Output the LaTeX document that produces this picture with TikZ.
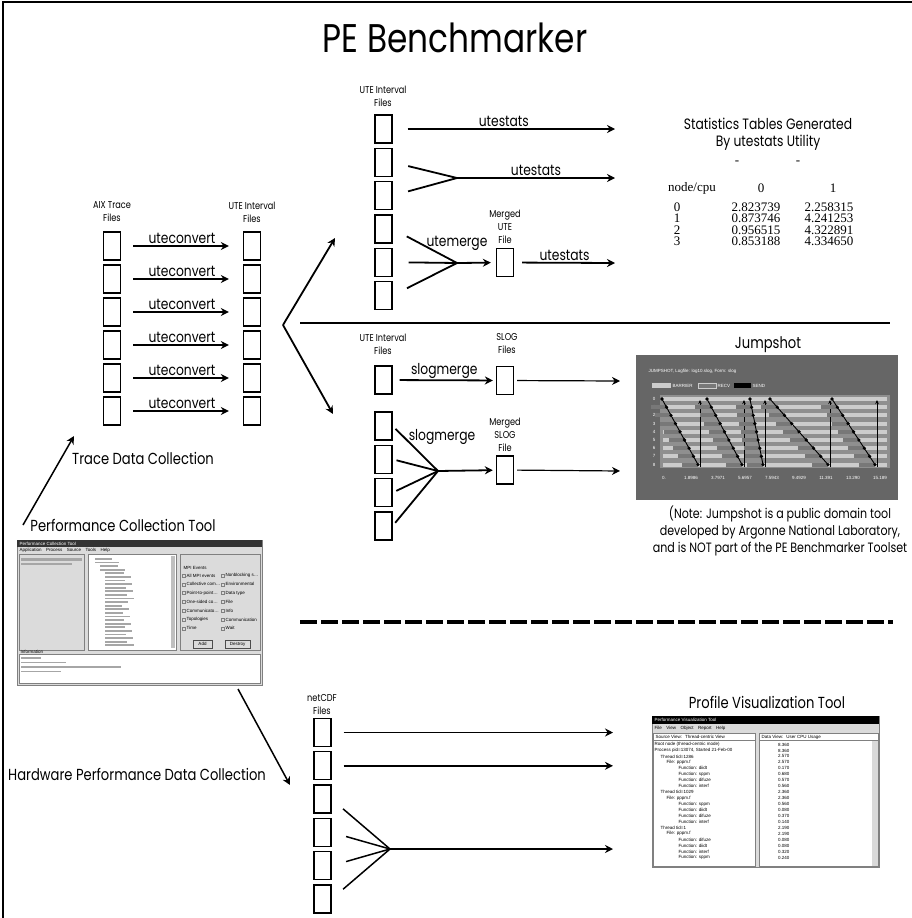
\documentclass[tikz,border=0pt]{standalone}
\usepackage{fontspec}
\setmainfont{Poppins}[FakeStretch=0.82]
\newfontfamily\tabfont{Liberation Serif}
\newfontfamily\guifont{Liberation Sans}
\usetikzlibrary{arrows.meta,positioning}
\definecolor{jsbg}{gray}{0.40}
\definecolor{jsplot}{gray}{0.56}
\definecolor{jslight}{gray}{0.80}
\definecolor{jsmid}{gray}{0.47}
\definecolor{winbg}{gray}{0.86}
\begin{document}
\begin{tikzpicture}[
  x=1pt, y=-1pt,
  file/.style={draw, line width=1.3pt, minimum width=17pt, minimum height=28pt, inner sep=0pt},
  small/.style={font=\fontsize{10}{13}\selectfont, align=center, inner sep=0pt},
  tool/.style={font=\fontsize{15}{17}\selectfont},
  capt/.style={font=\fontsize{16}{17}\selectfont, align=center},
  tab/.style={font=\tabfont\fontsize{13}{13}\selectfont, inner sep=0pt},
  gui/.style={font=\guifont\fontsize{4.5}{5}\selectfont, inner sep=0.5pt},
  fat/.style={line width=1.8pt, -{Stealth[length=8pt,width=8pt]}},
  thinarr/.style={line width=1.2pt, -{Stealth[length=8pt,width=8pt]}},
  midarr/.style={line width=1.5pt, -{Stealth[length=8pt,width=8pt]}},
  leg/.style={line width=1.8pt},
  txtbar/.style={fill=gray!70},
]
\useasboundingbox (0,0) rectangle (912,918);
\draw[line width=1.5pt] (3,918) -- (3,2) -- (912,2);

\node[font=\fontsize{40}{44}\selectfont] (title) at (455,38) {PE Benchmarker};

% trace files -> interval files
\node[small] (aixlbl) at (112,212) {AIX Trace\\Files};
\node[small] (utelbl) at (252,212) {UTE Interval\\Files};
\foreach \i in {1,...,6}{
  \node[file] (aix\i) at (112,{246+33*(\i-1)}) {};
  \node[file] (ute\i) at (252,{246+33*(\i-1)}) {};
  \draw[fat, shorten <=12pt, shorten >=14pt] (aix\i) -- node[above, tool, inner sep=1pt] {uteconvert} (ute\i);
}
\coordinate (fork) at (283,325);
\coordinate (toStats) at (335,238);
\coordinate (toSlog) at (333,414);
\draw[fat] (fork) -- (toStats);
\draw[fat] (fork) -- (toSlog);
\draw[leg] (300,323) coordinate (sepL) -- (890,323) coordinate (sepR);

% utestats / utemerge
\node[small] (ivlbl) at (383,96) {UTE Interval\\Files};
\foreach \i in {1,...,6}
  \node[file] (iv\i) at (383.5,{129+33.3*(\i-1)}) {};
\coordinate (st1) at (615,129);
\coordinate (st2) at (615,178);
\coordinate (st3) at (615,263);
\coordinate (jA) at (457,178);
\coordinate (jB) at (457,263);
\draw[fat, shorten <=15pt] (iv1.east) -- node[above, tool, inner sep=1pt] {utestats} (st1);
\draw[leg, shorten <=16pt] (iv2.east) -- (jA);
\draw[leg, shorten <=16pt] (iv3.east) -- (jA);
\draw[fat] (jA) -- node[above, tool, inner sep=1pt] {utestats} (st2);
\foreach \i in {4,5,6}
  \draw[leg, shorten <=16pt] (iv\i.east) -- (jB);
\node[file] (mute) at (505,262.5) {};
\node[small, above=4pt of mute] (mutelbl) {Merged\\UTE\\File};
\node[tool] (umlbl) at (457,243) {utemerge};
\draw[fat, shorten >=5pt] (jB) -- (mute);
\draw[fat, shorten <=8pt] (mute) -- node[above, tool, inner sep=1pt] {utestats} (st3);

% statistics table
\node[tool, align=center] (sttitle) at (768,134) {Statistics Tables Generated\\By utestats Utility};
\node[tab] (dash0) at (737,163) {-};
\node[tab] (dash1) at (798,163) {-};
\node[tab] (hdr) at (692,188) {node/cpu};
\node[tab] (hdr0) at (761,188) {0};
\node[tab] (hdr1) at (833,188) {1};
\foreach \r/\a/\b [count=\k] in {0/2.823739/2.258315,1/0.873746/4.241253,2/0.956515/4.322891,3/0.853188/4.334650}{
  \node[tab] (row\r) at (677,{207+11.5*(\k-1)}) {\r};
  \node[tab] (cpuA\r) at (756,{207+11.5*(\k-1)}) {\a};
  \node[tab] (cpuB\r) at (829,{207+11.5*(\k-1)}) {\b};
}

% slogmerge
\node[small] (sivlbl) at (383,344) {UTE Interval\\Files};
\node[small] (sloglbl) at (507,344) {SLOG\\Files};
\node[file] (sv1) at (383.5,380) {};
\foreach \i in {2,...,5}
  \node[file] (sv\i) at (383.5,{426+33.3*(\i-2)}) {};
\node[file] (slog) at (505,380.5) {};
\draw[fat, shorten <=7pt, shorten >=3pt] (sv1) -- node[above, tool, inner sep=1pt] {slogmerge} (slog);
\coordinate (jC) at (438,471);
\foreach \i in {2,...,5}
  \draw[leg, shorten <=4pt] (sv\i.east) -- (jC);
\node[file] (mslog) at (505,470) {};
\node[small, above=4pt of mslog] (msloglbl) {Merged\\SLOG\\File};
\node[tool] (smlbl) at (442,437) {slogmerge};
\draw[fat, shorten >=3pt] (jC) -- (mslog);
\coordinate (js1) at (620,381);
\coordinate (js2) at (620,471);
\draw[thinarr, shorten <=3pt] (slog) -- (js1);
\draw[thinarr, shorten <=3pt] (mslog) -- (js2);

% jumpshot
\node[capt] (jslbl) at (768,345) {Jumpshot};
\fill[jsbg] (636,355) rectangle (898,500);
\node[gui, text=white, anchor=west] (jshead) at (648,371) {JUMPSHOT, Logfile: log10.slog, Form: slog};
\fill[jslight] (652,383) rectangle (671,388);
\node[gui, text=white, anchor=west] (jsbar) at (672,385.5) {BARRIER};
\filldraw[fill=jsmid, draw=jslight] (698,383) rectangle (716,388);
\node[gui, text=white, anchor=west] (jsrecv) at (717,385.5) {RECV};
\fill[black] (734,383) rectangle (751,388);
\node[gui, text=white, anchor=west] (jssend) at (752,385.5) {SEND};
\fill[jsplot] (660,395) rectangle (890,468);
\foreach \k in {0,...,8}{
  \node[gui, text=white] (jsy\k) at (654,{399+8.2*\k}) {\k};
  \fill[jslight] (663,{397+8.2*\k}) rectangle (887,{401+8.2*\k});
}
\foreach \xs/\xe in {662/698,707/742,750/763,770/828,832/875}{
  \foreach \k in {1,...,8}
    \fill[jsmid] ({\xs+(\xe-\xs)*\k/8-16},{397+8.2*\k}) rectangle ({\xs+(\xe-\xs)*\k/8},{401+8.2*\k});
  \draw[line width=0.9pt] (\xs,399) -- (\xe,464.6);
  \foreach \k in {0,...,8}
    \fill ({\xs+(\xe-\xs)*\k/8},{399+8.2*\k}) circle (1.8pt);
  \draw[line width=0.6pt, -{Stealth[length=4pt,width=3.5pt]}] ({\xe+2},467) -- ({\xe+2},400);
}
\foreach \t [count=\k from 0] in {0.,1.8986,3.7971,5.6957,7.5943,9.4929,11.391,13.290,15.189}
  \node[gui, text=white] (jsx\k) at ({664+27*\k},478) {\t};
\node[align=center, font=\fontsize{13.5}{17}\selectfont] (note) at (780,531) {(Note: Jumpshot is a public domain tool\\developed by Argonne National Laboratory,\\and is NOT part of the PE Benchmarker Toolset};

\draw[line width=4pt, dash pattern=on 17pt off 4pt] (300,622) coordinate (dashL) -- (893,622) coordinate (dashR);

% collection tool
\node[capt] (tdc) at (143,458) {Trace Data Collection};
\node[capt] (pct) at (123,525) {Performance Collection Tool};
\coordinate (pctTail) at (23,525);
\coordinate (tdcHead) at (74,436);
\draw[midarr] (pctTail) -- (tdcHead);
\filldraw[fill=winbg, draw=gray] (17,540) rectangle (262,685);
\fill[black!80] (17,540) rectangle (262,547);
\node[gui, text=white, anchor=west] (pcttitle) at (19,543.5) {Performance Collection Tool};
\node[gui, anchor=west] (pctmenu) at (19,550.5) {Application\quad Process\quad Source\quad Tools\quad Help};
\filldraw[fill=winbg, draw=gray] (19,554) rectangle (84,650);
\filldraw[fill=white, draw=gray] (88,554) rectangle (176,650);
\filldraw[fill=winbg, draw=gray] (180,554) rectangle (260,650);
\filldraw[fill=white, draw=gray] (19,654) rectangle (260,683);
\fill[txtbar] (21,558) rectangle (82,561);
\fill[txtbar] (21,563) rectangle (72,565);
\foreach \k in {0,...,24}
  \fill[txtbar] ({95+(\k>1)*5+(\k>3)*5},{558+3.6*\k}) rectangle ({112+(\k>1)*5+(\k>3)*5+mod(\k*7,13)},{559.8+3.6*\k});
\fill[gray!50] (171,556) rectangle (175,648);
\node[gui, anchor=west] (mpiev) at (183,568) {MPI Events};
\foreach \a/\b [count=\k from 0] in {All MPI events/Nonblocking s\ldots,Collective com\ldots/Environmental,Point-to-point\ldots/Data type,One-sided co\ldots/File,Communicato\ldots/Info,Topologies/Communication,Time/Wait}{
  \draw[gray] (182,{574+8.8*\k}) rectangle (185,{577+8.8*\k});
  \node[gui, anchor=west] (evA\k) at (186,{575.5+8.8*\k}) {\a};
  \draw[gray] (221,{574+8.8*\k}) rectangle (224,{577+8.8*\k});
  \node[gui, anchor=west] (evB\k) at (225,{575.5+8.8*\k}) {\b};
}
\filldraw[fill=winbg, draw=gray!60!black] (193,640) rectangle (212,648);
\node[gui] (pctadd) at (202.5,644) {Add};
\filldraw[fill=winbg, draw=gray!60!black] (225,640) rectangle (250,648);
\node[gui] (pctdel) at (237.5,644) {Destroy};
\node[gui, anchor=west] (pctinfo) at (20,652) {Information};
\foreach \k/\w in {0/20,1/45,2/100,3/40}
  \fill[txtbar] (21,{657+4.5*\k}) rectangle ({21+\w},{658.6+4.5*\k});
\coordinate (pctOut) at (238,689);
\coordinate (hwHead) at (290,785);
\draw[midarr] (pctOut) -- (hwHead);
\node[capt] (hw) at (137,774) {Hardware Performance Data Collection};

% netCDF files
\node[small] (nclbl) at (322,705) {netCDF\\Files};
\foreach \i in {1,...,6}
  \node[file] (nc\i) at (322.5,{732.5+33.3*(\i-1)}) {};
\coordinate (pvx) at (613,0);
\draw[midarr, shorten <=12pt] (nc1.east) -- (nc1.east -| pvx);
\draw[midarr, shorten <=12pt] (nc2.east) -- (nc2.east -| pvx);
\coordinate (jD) at (390,849);
\foreach \i in {3,...,6}
  \draw[line width=1.5pt, shorten <=15pt] (nc\i.east) -- (jD);
\draw[midarr] (jD) -- (jD -| pvx);

% profile visualization tool
\node[capt] (pvt) at (767,702) {Profile Visualization Tool};
\filldraw[fill=winbg, draw=gray] (652,716) rectangle (879,867);
\fill[black] (652,716) rectangle (879,723.5);
\node[gui, text=white, anchor=west] (pvttitle) at (654,719.7) {Performance Visualization Tool};
\node[gui, anchor=west] (pvtmenu) at (654,728) {File\quad View\quad Object\quad Report\quad Help};
\filldraw[fill=white, draw=gray] (653,733) rectangle (755,866);
\filldraw[fill=white, draw=gray] (759,733) rectangle (878,866);
\node[gui, anchor=west] (srcview) at (655,737) {Source View: \ Thread-centric View};
\node[gui, anchor=west] (dataview) at (761,737) {Data View: \ User CPU Usage};
\draw[gray] (653,740.5) -- (755,740.5);
\draw[gray] (759,740.5) -- (878,740.5);
\fill[gray!30] (872,741) rectangle (878,866);
\foreach \t/\d [count=\k from 0] in {Root node (thread-centric mode)/0,{Process pid=13074, Started 21-Feb-00}/0,Thread tid=1286/1,File: pppm.f/2,Function: diidt/4,Function: sppm/4,Function: difuze/4,Function: interf/4,Thread tid=1029/1,File: pppm.f/2,Function: sppm/4,Function: diidt/4,Function: difuze/4,Function: interf/4,Thread tid=1/1,File: pppm.f/2,Function: difuze/4,Function: diidt/4,Function: interf/4,Function: sppm/4}
  \node[gui, anchor=west] (src\k) at ({654+6*\d},{744.5+5.95*\k}) {\t};
\foreach \v [count=\k from 0] in {8.360,8.360,2.570,2.570,0.170,0.680,0.570,0.560,2.360,2.360,0.560,0.080,0.370,0.140,2.190,2.190,0.080,0.080,0.320,0.240}
  \node[gui, anchor=east] (val\k) at (790,{744.5+5.95*\k}) {\v};
\end{tikzpicture}
\end{document}
